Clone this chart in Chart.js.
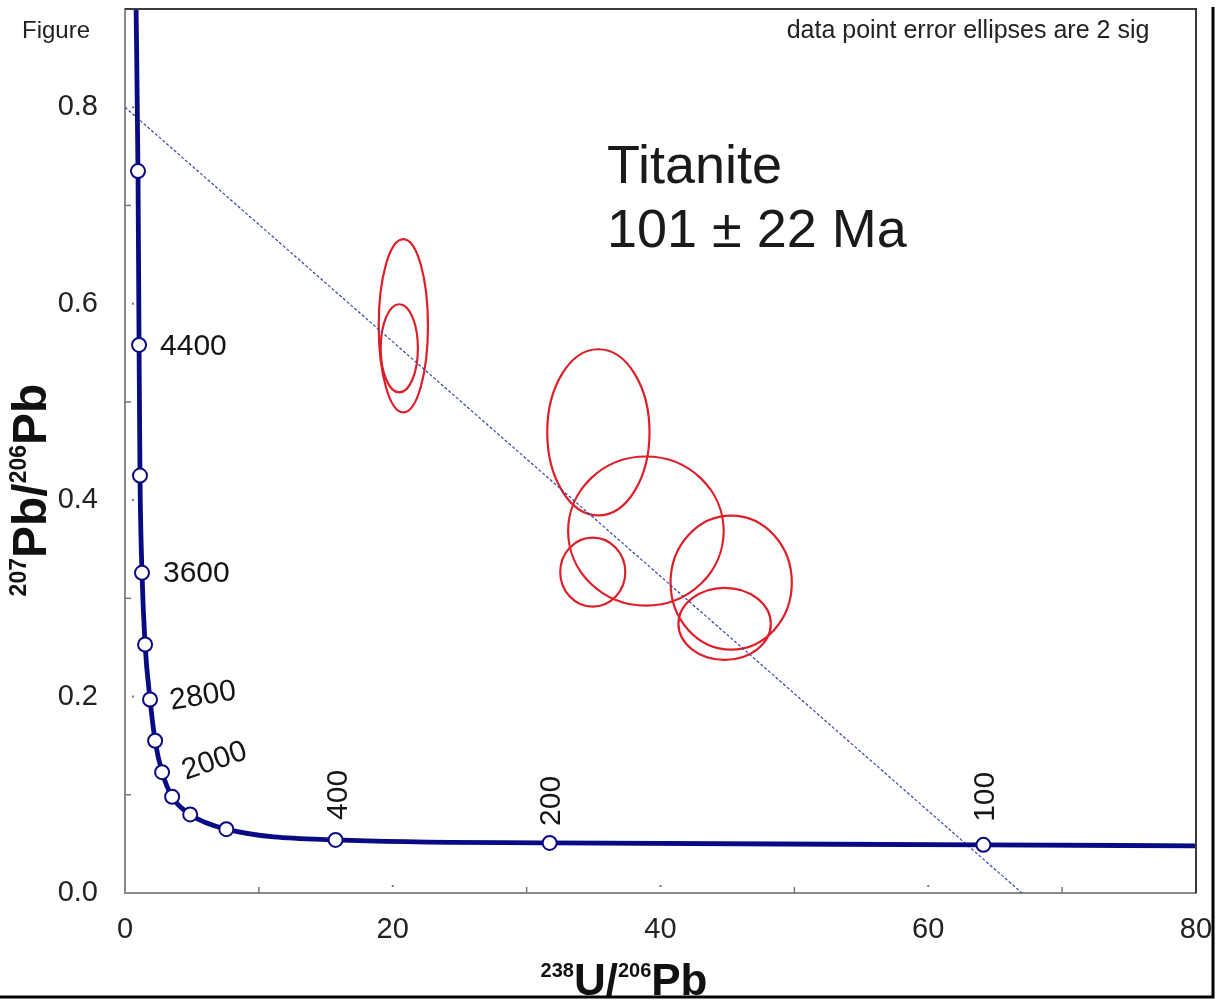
<!DOCTYPE html>
<html>
<head>
<meta charset="utf-8">
<script src="https://cdn.jsdelivr.net/npm/chart.js@4.4.1/dist/chart.umd.min.js"></script>
<style>
  html, body { margin: 0; padding: 0; background: #fff; }
</style>
</head>
<body>
<canvas id="tw" width="1223" height="1001"></canvas>
<script>
// concordia ages (Ma) with their 238U/206Pb and 207Pb/206Pb ratios
const ages = [4800, 4400, 4000, 3600, 3200, 2800, 2400, 2000, 1600, 1200, 800, 400, 200, 100];
const ageU = [0.97, 1.05, 1.12, 1.27, 1.50, 1.87, 2.25, 2.77, 3.52, 4.87, 7.57, 15.73, 31.72, 64.12];
const agePb = [0.735, 0.558, 0.425, 0.326, 0.253, 0.197, 0.155, 0.123, 0.098, 0.080, 0.065, 0.054, 0.051, 0.049];
const ageLabels = ['', '4400', '', '3600', '', '2800', '', '2000', '', '', '', '400', '200', '100'];
// where the concordia leaves the plot at top and right
const curveHead = {x: 0.82, y: 0.91};
const curveTail = {x: 80, y: 0.048};

// discordia through the titanite analyses
const discU = [0, 67];
const discPb = [0.80, 0];

// titanite analyses: centre and 2 sigma half-widths
const ellU = [20.79, 20.49, 35.36, 38.91, 34.94, 45.28, 44.79];
const ellPb = [0.5775, 0.5545, 0.469, 0.3685, 0.3267, 0.316, 0.274];
const ellSU = [1.84, 1.39, 3.82, 5.81, 2.43, 4.53, 3.45];
const ellSPb = [0.0882, 0.0449, 0.0846, 0.0759, 0.0352, 0.0683, 0.0367];

const xTicks = [0, 20, 40, 60, 80];
const yTicks = [0, 0.2, 0.4, 0.6, 0.8];

const FONT = '"Liberation Sans", Arial, sans-serif';
const NAVY = '#0a0a84';

// label placement next to each concordia marker: dx, dy, rotation (deg)
const labelPlace = {
  '4400': [21, 2, 0],
  '3600': [21, 1, 0],
  '2800': [20, 2, -9],
  '2000': [21, 0, -19],
  '400': [3, -20, -90],
  '200': [2, -17, -90],
  '100': [2, -23, -90]
};

function drawParts(ctx, parts, big, small, weight) {
  let x = 0;
  parts.forEach(p => {
    ctx.font = `${weight} ${p.sup ? small : big}px ${FONT}`;
    ctx.fillText(p.t, x, p.sup ? -big * 0.42 : 0);
    x += ctx.measureText(p.t).width;
  });
  return x;
}

function measureParts(ctx, parts, big, small, weight) {
  let w = 0;
  parts.forEach(p => {
    ctx.font = `${weight} ${p.sup ? small : big}px ${FONT}`;
    w += ctx.measureText(p.t).width;
  });
  return w;
}

// keep the plot box exactly where the axes are fixed
function noPadding(s) {
  s.paddingTop = 0;
  s.paddingBottom = 0;
  s.paddingLeft = 0;
  s.paddingRight = 0;
}

const decorations = {
  id: 'decorations',
  beforeDatasetsDraw(chart) {
    const {ctx, chartArea: a, scales: {x, y}} = chart;
    ctx.save();
    ctx.beginPath();
    ctx.rect(a.left, a.top, a.right - a.left, a.bottom - a.top);
    ctx.clip();
    ctx.strokeStyle = '#dc1f28';
    ctx.lineWidth = 2.2;
    ellU.forEach((u, i) => {
      const cx = x.getPixelForValue(u);
      const cy = y.getPixelForValue(ellPb[i]);
      const rx = Math.abs(x.getPixelForValue(u + ellSU[i]) - cx);
      const ry = Math.abs(y.getPixelForValue(ellPb[i] + ellSPb[i]) - cy);
      ctx.beginPath();
      ctx.ellipse(cx, cy, rx, ry, 0, 0, Math.PI * 2);
      ctx.stroke();
    });
    ctx.restore();
  },
  afterDraw(chart) {
    const {ctx, chartArea: a, scales: {x, y}} = chart;
    ctx.save();

    // minor ticks inside the axes
    ctx.strokeStyle = '#777';
    ctx.fillStyle = '#777';
    ctx.lineWidth = 1.5;
    for (let v = 10; v < 80; v += 10) {
      const px = x.getPixelForValue(v);
      if (v % 20) {
        ctx.beginPath(); ctx.moveTo(px, a.bottom); ctx.lineTo(px, a.bottom - 6); ctx.stroke();
      } else {
        ctx.fillRect(px - 1, a.bottom - 8, 2, 2);
      }
    }
    for (let k = 1; k < 9; k++) {
      const py = y.getPixelForValue(k / 10);
      if (k % 2) {
        ctx.beginPath(); ctx.moveTo(a.left, py); ctx.lineTo(a.left + 6, py); ctx.stroke();
      } else {
        ctx.fillRect(a.left + 7, py - 1, 2, 2);
      }
    }

    // top and right edges of the plot box
    ctx.strokeStyle = '#3a3a3a';
    ctx.lineWidth = 2;
    ctx.beginPath();
    ctx.moveTo(a.left, a.top);
    ctx.lineTo(a.right, a.top);
    ctx.lineTo(a.right, a.bottom);
    ctx.stroke();

    // age labels on the concordia
    ctx.fillStyle = '#151515';
    ctx.font = `30px ${FONT}`;
    ctx.textAlign = 'left';
    ctx.textBaseline = 'middle';
    ageLabels.forEach((lab, i) => {
      if (!lab) return;
      const [dx, dy, rot] = labelPlace[lab];
      ctx.save();
      ctx.translate(x.getPixelForValue(ageU[i]) + dx, y.getPixelForValue(agePb[i]) + dy);
      ctx.rotate(rot * Math.PI / 180);
      ctx.fillText(lab, 0, 0);
      ctx.restore();
    });

    // notes and result
    ctx.fillStyle = '#222';
    ctx.font = `24px ${FONT}`;
    ctx.fillText('Figure', 22, 31);
    ctx.textAlign = 'center';
    ctx.font = `25px ${FONT}`;
    ctx.fillText('data point error ellipses are 2 sig', 968, 31);

    ctx.fillStyle = '#1a1a1a';
    ctx.textAlign = 'left';
    ctx.textBaseline = 'alphabetic';
    ctx.font = `54px ${FONT}`;
    ctx.fillText('Titanite', 607, 183);
    ctx.fillText('101 \u00b1 22 Ma', 607, 247);

    // axis titles with superscript mass numbers
    ctx.fillStyle = '#111';
    const xTitle = [{t: '238', sup: true}, {t: 'U/'}, {t: '206', sup: true}, {t: 'Pb'}];
    const yTitle = [{t: '207', sup: true}, {t: 'Pb/'}, {t: '206', sup: true}, {t: 'Pb'}];
    let w = measureParts(ctx, xTitle, 44, 20, 'bold');
    ctx.save();
    ctx.translate(624 - w / 2, 995);
    drawParts(ctx, xTitle, 44, 20, 'bold');
    ctx.restore();
    w = measureParts(ctx, yTitle, 48, 23, 'bold');
    ctx.save();
    ctx.translate(46, 490 + w / 2);
    ctx.rotate(-Math.PI / 2);
    drawParts(ctx, yTitle, 48, 23, 'bold');
    ctx.restore();

    // outer frame
    ctx.strokeStyle = '#000';
    ctx.lineWidth = 3;
    ctx.beginPath();
    ctx.moveTo(1213, 7);
    ctx.lineTo(1213, 997);
    ctx.lineTo(0, 997);
    ctx.stroke();
    ctx.restore();
  }
};

new Chart(document.getElementById('tw'), {
  type: 'scatter',
  data: {
    datasets: [
      {
        data: discU.map((u, i) => ({x: u, y: discPb[i]})),
        showLine: true,
        borderColor: '#3346b0',
        borderWidth: 1.2,
        borderDash: [3, 2],
        pointRadius: 0,
        order: 3
      },
      {
        data: [curveHead, ...ageU.map((u, i) => ({x: u, y: agePb[i]})), curveTail],
        showLine: true,
        borderColor: NAVY,
        borderWidth: 4.8,
        pointRadius: 0,
        cubicInterpolationMode: 'monotone',
        order: 2
      },
      {
        data: ageU.map((u, i) => ({x: u, y: agePb[i]})),
        pointRadius: 7,
        pointBackgroundColor: '#fff',
        pointBorderColor: NAVY,
        pointBorderWidth: 2,
        order: 1
      }
    ]
  },
  options: {
    responsive: false,
    animation: false,
    devicePixelRatio: 1,
    layout: {padding: {top: 9, right: 27, left: 0, bottom: 0}},
    plugins: {legend: {display: false}, tooltip: {enabled: false}},
    scales: {
      x: {
        type: 'linear',
        min: 0,
        max: 80,
        afterBuildTicks: s => { s.ticks = xTicks.map(v => ({value: v})); },
        afterFit: s => { s.height = 108; noPadding(s); },
        grid: {display: false},
        border: {display: true, color: '#8a8a8a', width: 2},
        ticks: {
          padding: 12,
          color: '#222',
          font: {family: FONT, size: 29},
          maxRotation: 0,
          callback: v => String(v)
        }
      },
      y: {
        type: 'linear',
        min: 0,
        max: 0.9,
        afterBuildTicks: s => { s.ticks = yTicks.map(v => ({value: v})); },
        afterFit: s => { s.width = 125; noPadding(s); },
        grid: {display: false},
        border: {display: true, color: '#8a8a8a', width: 2},
        ticks: {
          padding: 19,
          color: '#222',
          font: {family: FONT, size: 29},
          callback: v => v.toFixed(1)
        }
      }
    }
  },
  plugins: [decorations]
});
</script>
</body>
</html>
